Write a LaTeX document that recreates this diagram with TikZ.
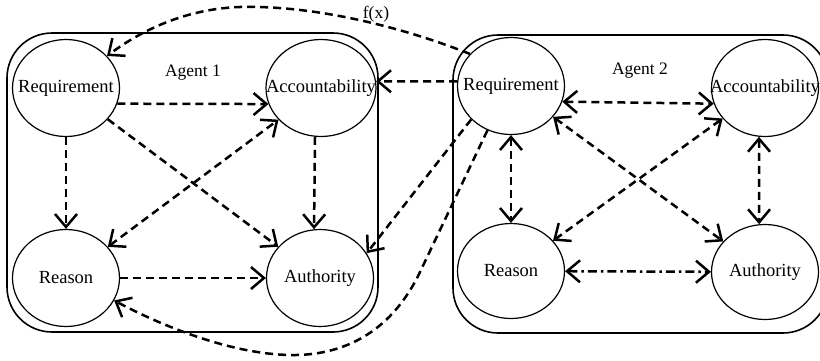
\documentclass[tikz,border=0pt]{standalone}
\usepackage{fontspec}
\setmainfont{Liberation Serif}
\usetikzlibrary{arrows.meta,shapes.geometric}
\newcommand\ztxt[1]{\makebox[0pt]{#1}}
\begin{document}
\begin{tikzpicture}[x=1pt,y=-1pt,
  font=\rmfamily\fontsize{17.5}{20}\selectfont,
  >={Straight Barb[length=13pt,width=22pt]},
  agentbox/.style={draw,line width=1.6pt,rounded corners=45pt},
  concept/.style={ellipse,draw,line width=1.2pt,inner sep=0pt,fill=white,
    font=\rmfamily\fontsize{18.5}{21}\selectfont,
    minimum width=107pt,minimum height=97pt},
  dashedlink/.style={line width=2.5pt,dash pattern=on 8pt off 5pt},
  dotdashlink/.style={line width=2.5pt,dash pattern=on 9pt off 4pt on 2.5pt off 4pt}]
\useasboundingbox (0,0) rectangle (820,360);
% agent boxes
\draw[agentbox] (7,33) rectangle (378,332);
\draw[agentbox] (453,35) rectangle (828,333);
% agent 1 concepts
\node[concept] (a1req) at (66,88) {\ztxt{Requirement}};
\node[concept,minimum width=110pt] (a1acc) at (321,88) {\ztxt{Accountability}};
\node[concept] (a1rea) at (66,278) {\ztxt{\raisebox{-3pt}{Reason}}};
\node[concept] (a1aut) at (320,278) {\ztxt{\raisebox{-2pt}{Authority}}};
\node (ag1) at (193,73) {Agent 1};
% agent 2 concepts
\node[concept] (a2req) at (511,86) {\ztxt{Requirement}};
\node[concept] (a2acc) at (765,88) {\ztxt{Accountability}};
\node[concept,minimum height=95pt] (a2rea) at (511,271) {\ztxt{\raisebox{-3pt}{Reason}}};
\node[concept,minimum height=95pt] (a2aut) at (765,272) {\ztxt{\raisebox{-3pt}{Authority}}};
\node (ag2) at (640,71) {Agent 2};
\node (fx) at (376,14) {f(x)};
% agent 1 links
\draw[dashedlink,->] (a1req.-17) -- (a1acc.197);
\draw[dashedlink,->] (a1req.south) -- (a1rea.north);
\draw[dashedlink,->] (a1acc.-97) -- (a1aut.97);
\draw[dashedlink,->] (a1req) -- (a1aut);
\draw[dashedlink,<->] (a1rea) -- (a1acc);
\draw[dashedlink,->] (a1rea) -- (a1aut);
% agent 2 links
\draw[dashedlink,<->] (a2req.-17) -- (a2acc.197);
\draw[dashedlink,<->] (a2req) -- (a2rea);
\draw[dashedlink,<->] (a2acc.-97) -- (a2aut.97);
\draw[dashedlink,<->] (a2req) -- (a2aut);
\draw[dashedlink,<->] (a2acc) -- (a2rea);
\draw[dotdashlink,<->] (a2rea) -- (a2aut);
% links between agents
\coordinate (fxtop) at (240,7);
\coordinate (bendA) at (420,272);
\coordinate (bendB) at (290,355);
\draw[dashedlink,->] (a2req.142) .. controls (410,30) and (320,5) .. (fxtop)
  .. controls (180,9) and (135,35) .. (a1req.38);
\draw[dashedlink,->] (a2req.175) -- (a1acc.7);
\draw[dashedlink,->] (a2req.220) -- (a1aut.28);
\draw[dashedlink,->] (a2req.242) -- (bendA) .. controls (390,335) and (340,356) .. (bendB)
  .. controls (230,354) and (160,325) .. (a1rea.335);
\end{tikzpicture}
\end{document}
